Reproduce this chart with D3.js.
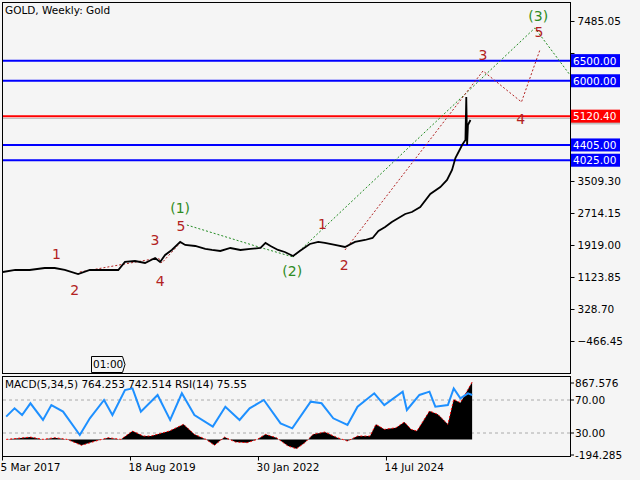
<!DOCTYPE html>
<html><head><meta charset="utf-8">
<script src="https://cdn.jsdelivr.net/npm/d3@7"></script>
<style>body{margin:0;background:#f5f5f5}svg{display:block}text{font-family:"DejaVu Sans",sans-serif;font-size:10.5px}</style>
</head><body><svg id="c" width="640" height="480"></svg>
<script>
// price path, week index from 5 Mar 2017
var priceWeeks = [1,16,33,51,63,75,91,105,123,139,147,159,171,183,189,195,203,213,219,231,243,251,261,273,285,297,309,315,321,330,338,348,356,368,378,386,398,410,422,434,443,450,458,466,474,482,490,500,512,524,532,538,542,547,550,554,555,556,557,560];
var priceValues = [1248,1298,1298,1347,1347,1298,1198,1298,1298,1298,1497,1521,1472,1596,1497,1670,1795,1994,1919,1894,1820,1795,1770,1844,1795,1820,1844,1969,1894,1795,1745,1646,1770,1944,1994,1969,1919,1869,1994,2043,2093,2267,2366,2491,2590,2689,2739,2863,3186,3360,3534,3783,4081,4280,4404,4528,5597,4404,4901,5025];
var priceTicks = [7485.05,6689.90,5894.75,5099.60,4304.45,3509.30,2714.15,1919.00,1123.85,328.70,-466.45];
var priceTickShown = [7485.05,3509.30,2714.15,1919.00,1123.85,328.70,-466.45];
var levels = [6500,6000,5120.40,4405,4025];
var levelColors = ["#0000ff","#0000ff","#ff0000","#0000ff","#0000ff"];
var waveLabels = ["1","2","3","4","5","(1)","(2)","1","2","3","4","5","(3)"];
var waveWeeks = [65,87,183,189,214,213,347,383,409,575,620,642,641];
var wavePrices = [1670,776,2018,999,2366,2814,1248,2416,1397,6616,5025,7187,7585];
var waveGreen = [0,0,0,0,0,1,1,0,0,0,0,0,1];
var redPath1 = [[93,1248],[187,1596],[191,1472],[213,1969]];
var greenPath1 = [[221,2416],[311,1844],[348,1621]];
var greenPath2 = [[348,1621],[637,7311],[679,6143]];
var redPath2 = [[410,1795],[575,6243],[621,5472],[643,6765]];
// indicators
var rsiWeeks = [5,15,24,34,49,59,73,93,105,122,132,147,156,166,186,201,215,230,252,267,284,296,313,333,347,369,382,396,413,425,445,457,479,484,499,511,518,533,540,548,557,562];
var rsiValues = [49.8,59.9,51.8,66,45.8,63.9,55.9,27.6,47.8,70,51.8,82.1,84.1,55.9,76.1,45.8,78.1,51.8,37.7,61.9,45.8,59.9,70,41.7,35.7,68,66,47.8,39.7,61.9,78.1,63.9,80.1,57.9,76.1,80.1,61.9,63.9,84.1,72,78.1,76.1];
var macdWeeks = [5,34,49,63,78,95,112,127,142,156,169,178,200,217,230,244,254,266,279,293,305,315,328,342,352,362,372,386,401,413,425,440,447,457,471,481,489,496,511,521,533,540,548,562];
var macdValues = [0,35,0,26,0,-92,-26,26,0,128,51,51,128,231,77,0,-92,35,-41,-51,0,77,26,-103,-144,-51,77,113,26,-26,51,51,231,154,179,267,154,128,436,385,231,615,564,882];
var xTickWeeks = [0,153,306,459];
var xTickLabels = ["5 Mar 2017","18 Aug 2019","30 Jan 2022","14 Jul 2024"];

var svg = d3.select("#c");
var x = d3.scaleLinear().domain([0,679]).range([2,570]);
var y = d3.scaleLinear().domain([-1262,7957]).range([373,2]);
var yr = d3.scaleLinear().domain([30,70]).range([433,400]);
var ym = d3.scaleLinear().domain([-194.285,867.576]).range([452,383]);

svg.append("rect").attr("x",2.5).attr("y",2.5).attr("width",568).attr("height",371).attr("fill","#f5f5f5").attr("stroke","#000");
svg.append("rect").attr("x",2.5).attr("y",376.5).attr("width",568).attr("height",80).attr("fill","#f5f5f5").attr("stroke","#000");

// right price axis
var axR = svg.append("g").attr("transform","translate(570.5,0)")
  .call(d3.axisRight(y).tickValues(priceTicks).tickSize(4)
    .tickFormat(function(d){return priceTickShown.indexOf(d)>=0 ? d3.format(".2f")(d) : "";}));
axR.select(".domain").remove();
axR.selectAll("text").attr("fill","#000").style("font-size","10.5px");

// levels
svg.append("line").attr("x1",3).attr("x2",570).attr("y1",y(5062.32)).attr("y2",y(5062.32)).attr("stroke","#c0c0c0");
svg.append("rect").attr("x",571).attr("y",y(5062.32)-5).attr("width",49).attr("height",11).attr("fill","#c0c0c0");
levels.forEach(function(v,i){
  svg.append("line").attr("x1",3).attr("x2",570).attr("y1",y(v)).attr("y2",y(v)).attr("stroke",levelColors[i]).attr("stroke-width",2);
  svg.append("rect").attr("x",571).attr("y",y(v)-6.5).attr("width",49).attr("height",13).attr("fill",levelColors[i]);
  svg.append("text").attr("x",573).attr("y",y(v)+4).attr("fill","#fff").text(d3.format(".2f")(v));
});

// wave lines
var wl = d3.line().x(function(d){return x(d[0]);}).y(function(d){return y(d[1]);});
[[redPath1,"#b22222"],[greenPath1,"#228b22"],[greenPath2,"#228b22"],[redPath2,"#b22222"]].forEach(function(p){
  svg.append("path").attr("d",wl(p[0])).attr("fill","none").attr("stroke",p[1]).attr("stroke-dasharray","2,2");
});

// price
var pl = d3.line().x(function(d,i){return x(priceWeeks[i]);}).y(function(d){return y(d);});
svg.append("path").attr("d",pl(priceValues)).attr("fill","none").attr("stroke","#000").attr("stroke-width",1.8);

// wave labels
waveLabels.forEach(function(t,i){
  svg.append("text").attr("x",x(waveWeeks[i])).attr("y",y(wavePrices[i])).attr("text-anchor","middle")
    .attr("dominant-baseline","middle").style("font-size","14px").attr("fill",waveGreen[i]?"#2e8b22":"#b22222").text(t);
});

svg.append("text").attr("x",5).attr("y",14).text("GOLD, Weekly:  Gold");
svg.append("path").attr("d","M91.5,356.5H122.5L125,364.5L122.5,372.5H91.5Z").attr("fill","#f5f5f5").attr("stroke","#000");
svg.append("text").attr("x",93).attr("y",368).text("01:00");

// indicator panel
[70,30].forEach(function(v){
  svg.append("line").attr("x1",3).attr("x2",570).attr("y1",yr(v)).attr("y2",yr(v)).attr("stroke","#aaa").attr("stroke-dasharray","3,3");
});
var ma = d3.area().x(function(d,i){return x(macdWeeks[i]);}).y0(ym(0)).y1(function(d){return ym(d);});
svg.append("path").attr("d",ma(macdValues)).attr("fill","#000");
var ml = d3.line().x(function(d,i){return x(macdWeeks[i]);}).y(function(d){return ym(d);});
svg.append("path").attr("d",ml(macdValues)).attr("fill","none").attr("stroke","#ff0000").attr("stroke-dasharray","2,2");
var rl = d3.line().x(function(d,i){return x(rsiWeeks[i]);}).y(function(d){return yr(d);});
svg.append("path").attr("d",rl(rsiValues)).attr("fill","none").attr("stroke","#1e90ff").attr("stroke-width",2);
svg.append("text").attr("x",5).attr("y",388).text("MACD(5,34,5) 764.253 742.514 RSI(14) 75.55");

var subTicks = [[867.576,ym(867.576),"867.576"],[70,yr(70),"70.00"],[30,yr(30),"30.00"],[-194.285,ym(-194.285)+3,"-194.285"]];
subTicks.forEach(function(t){
  svg.append("line").attr("x1",570).attr("x2",574).attr("y1",t[1]).attr("y2",t[1]).attr("stroke","#000");
  svg.append("text").attr("x",575).attr("y",t[1]+4).text(t[2]);
});

// time axis
var axB = svg.append("g").attr("transform","translate(0,456.5)")
  .call(d3.axisBottom(x).tickValues(xTickWeeks).tickSize(4).tickFormat(function(d,i){return xTickLabels[i];}));
axB.select(".domain").remove();
axB.selectAll("text").attr("text-anchor","start").attr("dx","-2").attr("fill","#000").style("font-size","10.5px");
</script></body></html>
